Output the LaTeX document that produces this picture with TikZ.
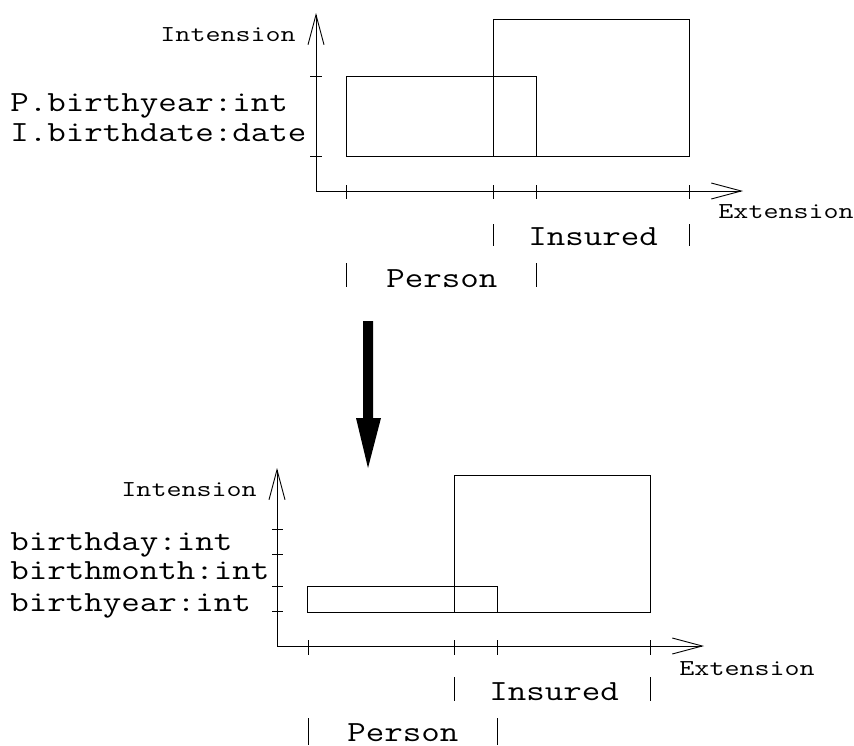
\documentclass[tikz,border=0pt]{standalone}
\usepackage{fontspec}
\newfontfamily\labelmono{Latin Modern Mono}[FakeStretch=1.23]
\newfontfamily\axismono{Latin Modern Mono}[FakeStretch=1.28]
\usetikzlibrary{arrows.meta}
\begin{document}
\begin{tikzpicture}[x=1pt,y=-1pt,line width=0.9pt,
  axis/.style={-{Straight Barb[length=30pt,width=16pt]}},
  bigtext/.style={font=\labelmono\fontsize{29.2}{34}\selectfont,inner sep=0pt,anchor=base west},
  smalltext/.style={font=\axismono\fontsize{22.8}{27}\selectfont,inner sep=0pt,anchor=base west},
  region/.style={draw}]
\useasboundingbox (0,0) rectangle (854,745);

% ---------- upper chart ----------
\coordinate (o1) at (316,191);
\coordinate (yt1) at (316,13);
\coordinate (xt1) at (743,191);
\draw[axis] (o1) -- (yt1);
\draw[axis] (o1) -- (xt1);
% ticks on the axes
\foreach \y in {76,156} \draw (310,\y) -- (322,\y);
\foreach \x in {346,493,536,689} \draw (\x,185) -- (\x,199);
% extension/intension regions
\draw[region] (346,76) rectangle (536,156);
\draw[region] (493,19) rectangle (689,156);
% labels
\node[smalltext] (int1) at (160,41.7) {Intension};
\node[smalltext] (ext1) at (718,218) {Extension};
\node[bigtext] (attrA) at (10,111) {P.birthyear:int};
\node[bigtext] (attrB) at (10,141.5) {I.birthdate:date};
\node[bigtext] (ins1) at (528,245) {Insured};
\node[bigtext] (per1) at (386,287) {Person};
\draw (493,224) -- (493,246);
\draw (689,224) -- (689,246);
\draw (346,263) -- (346,287);
\draw (536,263) -- (536,287);

% ---------- transformation arrow ----------
\coordinate (big) at (368,321);
\fill (big) ++(-5,0) -- ++(10,0) -- ++(0,97) -- ++(8,0) -- (368,468)
  -- (356,418) -- (363,418) -- cycle;

% ---------- lower chart ----------
\coordinate (o2) at (277,646);
\coordinate (yt2) at (277,468);
\coordinate (xt2) at (704,646);
\draw[axis] (o2) -- (yt2);
\draw[axis] (o2) -- (xt2);
\foreach \y in {529,554,586,611} \draw (272,\y) -- (283,\y);
\foreach \x in {308,454,497,650} \draw (\x,640) -- (\x,655);
\draw[region] (307,586) rectangle (497,612);
\draw[region] (454,475) rectangle (650,612);
\node[smalltext] (int2) at (121,496.7) {Intension};
\node[smalltext] (ext2) at (679,675) {Extension};
\node[bigtext] (attrC) at (10,550.5) {birthday:int};
\node[bigtext] (attrD) at (10,579.5) {birthmonth:int};
\node[bigtext] (attrE) at (10,611) {birthyear:int};
\node[bigtext] (ins2) at (489,700.7) {Insured};
\node[bigtext] (per2) at (347,741) {Person};
\draw (454,677) -- (454,701);
\draw (650,677) -- (650,701);
\draw (308,718) -- (308,745);
\draw (497,718) -- (497,745);
\end{tikzpicture}
\end{document}
